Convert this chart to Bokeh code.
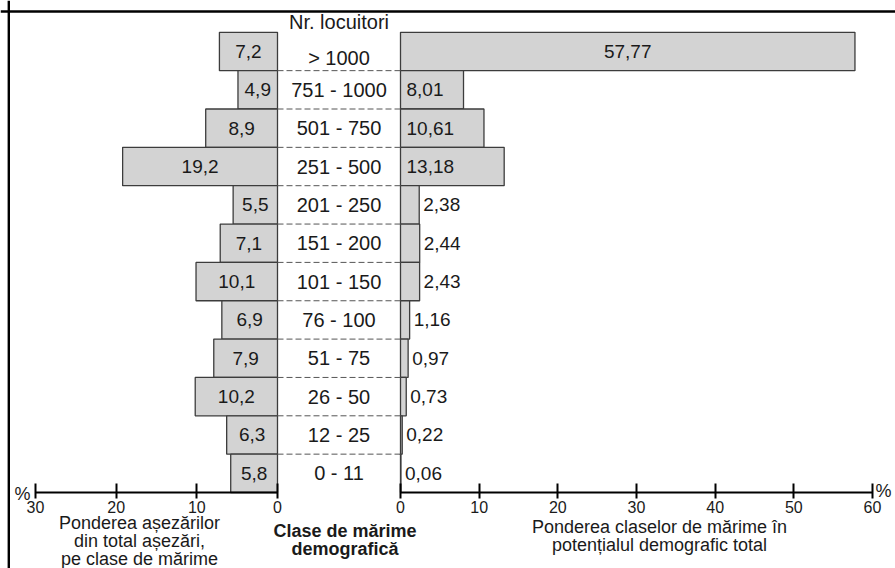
from bokeh.plotting import figure
from bokeh.models import (Range1d, LinearAxis, FixedTicker, Label, Span,
                          ColumnDataSource, Grid)
from bokeh.core.properties import value
from bokeh.embed import file_html
from bokeh.resources import INLINE

# ---------------- data (top row first) ----------------
classes = ["> 1000", "751 - 1000", "501 - 750", "251 - 500", "201 - 250", "151 - 200",
           "101 - 150", "76 - 100", "51 - 75", "26 - 50", "12 - 25", "0 - 11"]
share_settlements = [7.2, 4.9, 8.9, 19.2, 5.5, 7.1, 10.1, 6.9, 7.9, 10.2, 6.3, 5.8]
share_population = [57.77, 8.01, 10.61, 13.18, 2.38, 2.44, 2.43, 1.16, 0.97, 0.73, 0.22, 0.06]
left_ticks = [0, 10, 20, 30]
right_ticks = [0, 10, 20, 30, 40, 50, 60]

# ---------------- layout constants (canvas pixels) ----------------
W, H = 895, 568
ROW_H = 38.35
AXIS_Y = 492
LEFT0, LEFT30 = 277, 35
RIGHT0, RIGHT60 = 400, 872
FONT = "Liberation Sans"
TXT = "#1a1a1a"

kr = 60.0 / (RIGHT60 - RIGHT0)
kl = 30.0 / (LEFT0 - LEFT30)

def rx(c):
    return (c - RIGHT0) * kr

def lx(c):
    return (LEFT0 - c) * kl

def ry(c):
    return (AXIS_Y - c) / ROW_H

n = len(classes)
ys = [n - 1 - i + 0.5 for i in range(n)]

def fmt(v, d):
    return f"{v:.{d}f}".replace(".", ",")

r_x, r_align, r_off = [], [], []
for v in share_population:
    if v >= 30:
        r_x.append(v / 2); r_align.append("center"); r_off.append(0)
    elif v >= 5:
        r_x.append(0); r_align.append("left"); r_off.append(6)
    else:
        r_x.append(v); r_align.append("left"); r_off.append(4)

src = ColumnDataSource(dict(
    y=ys, cls=classes,
    sett=share_settlements, pop=share_population,
    sett_lbl=[fmt(v, 1) for v in share_settlements],
    sett_x=[v / 2 for v in share_settlements],
    pop_lbl=[fmt(v, 2) for v in share_population],
    pop_x=r_x, pop_align=r_align, pop_off=r_off,
    cls_off=[7 if i == 0 else 0 for i in range(n)],
))

p = figure(width=W, height=H,
           x_range=Range1d(rx(0), rx(W)), y_range=Range1d(ry(H), ry(0)),
           output_backend="svg", toolbar_location=None,
           x_axis_location=None, y_axis_location=None, min_border=0)
p.extra_x_ranges = {"left": Range1d(lx(0), lx(W))}
p.outline_line_color = None
p.background_fill_color = "white"
p.border_fill_color = "white"
p.center = [c for c in p.center if not isinstance(c, Grid)]

BAR_FILL = "#d3d3d3"
BAR_LINE = "#3c3c3c"

# bars
p.hbar(y="y", left=0, right="sett", height=1, source=src, x_range_name="left",
       fill_color=BAR_FILL, line_color=BAR_LINE, line_width=1.3)
p.hbar(y="y", left=0, right="pop", height=1, source=src,
       fill_color=BAR_FILL, line_color=BAR_LINE, line_width=1.3)

# dashed separators in the central column
seps = list(range(1, n))
p.segment(x0=[rx(LEFT0)] * len(seps), x1=[0] * len(seps), y0=seps, y1=seps,
          line_color="#555555", line_width=1, line_dash="6 3")

# class labels
p.text(x=rx((LEFT0 + RIGHT0) / 2), y="y", text="cls", source=src, y_offset="cls_off",
       text_align="center", text_baseline="middle", text_color=TXT,
       text_font=value(FONT), text_font_size="20px")

# value labels
p.text(x="sett_x", y="y", text="sett_lbl", source=src, x_range_name="left",
       text_align="center", text_baseline="middle", text_color=TXT,
       text_font=value(FONT), text_font_size="19px")
p.text(x="pop_x", y="y", text="pop_lbl", source=src, x_offset="pop_off",
       text_align="pop_align", text_baseline="middle", text_color=TXT,
       text_font=value(FONT), text_font_size="19px")

# axes
def style_axis(ax):
    ax.axis_line_width = 2
    ax.axis_line_color = "black"
    ax.major_tick_line_width = 2
    ax.major_tick_line_color = "black"
    ax.major_tick_in = 9
    ax.major_tick_out = 6
    ax.minor_tick_line_color = None
    ax.major_label_text_font = FONT
    ax.major_label_text_font_size = "16px"
    ax.major_label_text_color = TXT
    ax.major_label_standoff = 2

left_axis = LinearAxis(x_range_name="left", fixed_location=0, bounds=(0, 30),
                       ticker=FixedTicker(ticks=left_ticks))
right_axis = LinearAxis(fixed_location=0, bounds=(0, 60),
                        ticker=FixedTicker(ticks=right_ticks))
style_axis(left_axis)
style_axis(right_axis)
p.add_layout(left_axis, "below")
p.add_layout(right_axis, "below")

# texts
def lab(x, y, text, align="center", baseline="top", size="18px", style="normal",
        rng="default", lh=0.92):
    p.add_layout(Label(x=x, y=y, text=text, x_range_name=rng,
                       text_align=align, text_baseline=baseline,
                       text_font=FONT, text_font_size=size, text_font_style=style,
                       text_color=TXT, text_line_height=lh))

lab(rx((LEFT0 + RIGHT0) / 2), ry(21.5), "Nr. locuitori", baseline="middle", size="20px")
lab(lx(30), ry(493), "%", align="right", baseline="alphabetic", size="18px", rng="left")
lab(rx(875), ry(490), "%", align="left", baseline="middle", size="18px")
lab(lx(139), ry(512), "Ponderea așezărilor\ndin total așezări,\npe clase de mărime",
    rng="left")
lab(rx(659), ry(516), "Ponderea claselor de mărime în\npotențialul demografic total")
lab(rx(344.5), ry(520), "Clase de mărime\ndemografică", size="18px", style="bold")

# outer frame (top and left edges visible)
p.add_layout(Span(location=rx(8.3), dimension="height", line_color="black", line_width=2.4))
p.add_layout(Span(location=ry(11), dimension="width", line_color="black", line_width=2.4))

open("out.html", "w").write(file_html(p, INLINE))
